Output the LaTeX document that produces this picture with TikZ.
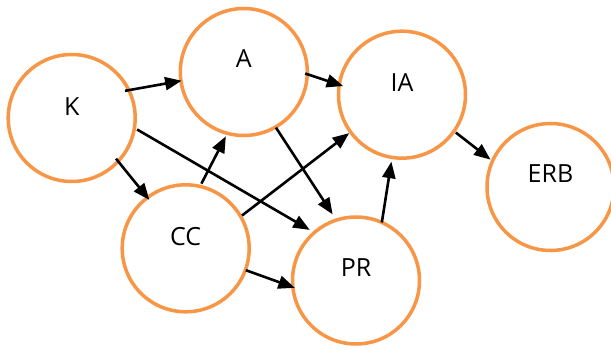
\documentclass[tikz,border=0pt]{standalone}
\usepackage{fontspec}
\setmainfont{Open Sans}
\usetikzlibrary{arrows.meta}
\definecolor{accorange}{RGB}{247,150,70}
\begin{document}
\begin{tikzpicture}[x=1pt,y=-1pt,
  circ/.style={circle,draw=accorange,fill=white,line width=3.5pt,minimum size=127pt,inner sep=0pt,outer sep=0pt},
  lab/.style={font=\fontsize{25}{30}\selectfont,inner sep=0pt},
  edge/.style={line width=2.6pt,-{Triangle[length=16.5pt,width=13pt]}}]
\useasboundingbox (0,0) rectangle (611,350);
\node[circ,label={[lab,yshift=11pt]center:K}] (K) at (71.7,118) {};
\node[circ,label={[lab,yshift=13.8pt]center:A}] (A) at (243.8,72) {};
\node[circ,label={[lab,yshift=11.3pt]center:CC}] (CC) at (185.7,248.3) {};
\node[circ,label={[lab,yshift=12.5pt]center:IA}] (IA) at (402,94.7) {};
\node[circ,label={[lab,yshift=13pt]center:ERB}] (ERB) at (550.5,187) {};
\node[circ,label={[lab,yshift=13.3pt]center:PR}] (PR) at (356,280.5) {};
\draw[edge,shorten <=-3.8pt,shorten >=-0.7pt] (K.26.9) -- (A.188.9);
\draw[edge,shorten <=-3.4pt,shorten >=-3pt] (K.-43) -- (CC.127);
\draw[edge,shorten <=3.1pt,shorten >=5.3pt] (K.-9.8) -- (PR.131.9);
\draw[edge,shorten <=3.1pt,shorten >=3.3pt] (CC.77.6) -- (A.255.7);
\draw[edge,shorten <=1.7pt,shorten >=1.8pt] (CC.30.7) -- (IA.216.2);
\draw[edge,shorten <=0.5pt,shorten >=-2.1pt] (CC.-20.5) -- (PR.186.4);
\draw[edge,shorten <=-2.2pt,shorten >=-4.1pt] (A.-2.8) -- (IA.171.3);
\draw[edge,shorten <=0.8pt,shorten >=6.8pt] (A.-60) -- (PR.108.8);
\draw[edge,shorten >=4.3pt] (PR.66) -- (IA.261.3);
\draw[edge,shorten <=2.3pt,shorten >=2.5pt] (IA.-35.3) -- (ERB.156.5);
\end{tikzpicture}
\end{document}
